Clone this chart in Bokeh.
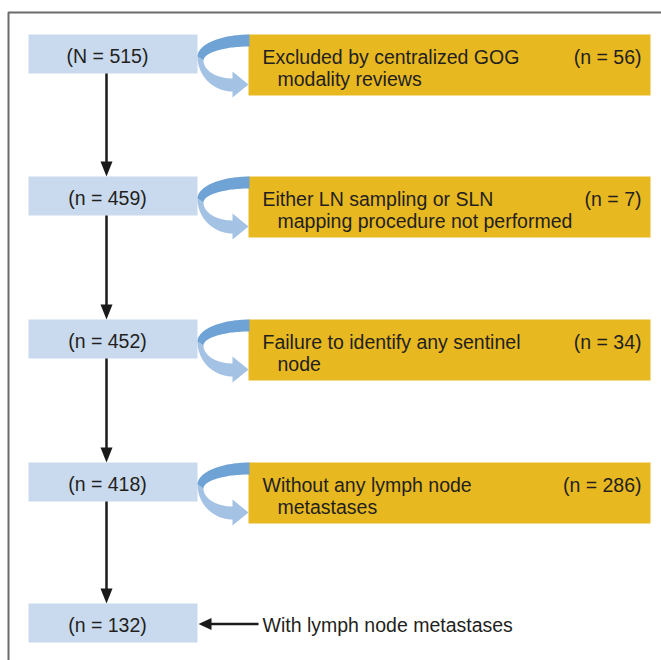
import numpy as np
from bokeh.plotting import figure
from bokeh.models import Range1d, ColumnDataSource
from bokeh.core.properties import value
from bokeh.embed import file_html
from bokeh.resources import INLINE

# ---- data ----
stage_prefix = ["N", "n", "n", "n", "n"]
stage_n = [515, 459, 452, 418, 132]
excl_n = [56, 7, 34, 286]
excl_line1 = ["Excluded by centralized GOG", "Either LN sampling or SLN",
              "Failure to identify any sentinel", "Without any lymph node"]
excl_line2 = ["modality reviews", "mapping procedure not performed",
              "node", "metastases"]
final_label = "With lymph node metastases"

# ---- layout / style ----
W, H = 661, 660
row_top = [34, 176, 319, 462, 603]
LB_L, LB_R, LB_H = 28, 197, 39
YB_L, YB_R, YB_H = 248, 650, 61
ARROW_X = 106
FONT = value("Liberation Sans")
FSIZE = "19.5px"
TXT = "#231f20"
C_LEFT = "#c9daee"
C_YEL = "#e8b820"
C_DARK = "#6fa3d5"
C_LIGHT = "#a3c2e4"

p = figure(width=W, height=H, x_range=Range1d(0, W), y_range=Range1d(H, 0),
           output_backend="svg", toolbar_location=None, min_border=0,
           x_axis_location=None, y_axis_location=None)
p.grid.visible = False
p.outline_line_color = None
p.background_fill_color = "white"
p.border_fill_color = "white"

# frame
p.line([8, 8, W + 5], [H + 5, 12, 12], line_color="#6b6b6b", line_width=2)

# left boxes
labels = [f"({pre} = {n})" for pre, n in zip(stage_prefix, stage_n)]
lsrc = ColumnDataSource(dict(
    left=[LB_L] * len(stage_n), right=[LB_R] * len(stage_n),
    top=row_top, bottom=[t + LB_H for t in row_top],
    x=[ARROW_X + 1] * len(stage_n), y=[t + LB_H / 2 + 2 for t in row_top], text=labels))
p.quad(left="left", right="right", top="top", bottom="bottom", source=lsrc,
       fill_color=C_LEFT, line_color=None)
p.text(x="x", y="y", text="text", source=lsrc, text_align="center", text_baseline="middle",
       text_font=FONT, text_font_size=FSIZE, text_color=TXT)

# yellow boxes
ne = len(excl_n)
ytops = row_top[:ne]
ysrc = ColumnDataSource(dict(
    left=[YB_L] * ne, right=[YB_R] * ne, top=ytops, bottom=[t + YB_H for t in ytops]))
p.quad(left="left", right="right", top="top", bottom="bottom", source=ysrc,
       fill_color=C_YEL, line_color=None)
p.text(x=[262] * ne, y=[t + 22 for t in ytops], text=excl_line1, text_align="left",
       text_baseline="middle", text_font=FONT, text_font_size=FSIZE, text_color=TXT)
p.text(x=[277] * ne, y=[t + 44 for t in ytops], text=excl_line2, text_align="left",
       text_baseline="middle", text_font=FONT, text_font_size=FSIZE, text_color=TXT)
p.text(x=[641] * ne, y=[t + 22 for t in ytops], text=[f"(n = {n})" for n in excl_n],
       text_align="right", text_baseline="middle", text_font=FONT, text_font_size=FSIZE,
       text_color=TXT)

# curved arrows
def arc(cx, cy, rx, ry, a0, a1, n=40):
    t = np.linspace(a0, a1, n)
    return list(cx + rx * np.cos(t)), list(cy + ry * np.sin(t))

dark_xs, dark_ys, light_xs, light_ys = [], [], [], []
for T in ytops:
    ox, oy = arc(249, T + 22, 52, 22, -np.pi / 2, -np.pi)
    ix, iy = arc(249, T + 26, 46, 14, -np.pi, -np.pi / 2)
    dark_xs.append(ox + ix); dark_ys.append(oy + iy)
    bx, by = arc(232, T + 22, 35, 35, np.pi, np.pi / 2)
    tx, ty = arc(232, T + 26, 29, 18, np.pi / 2, np.pi)
    hx = [232, 248, 232]
    hy = [T + 63, T + 50, T + 37]
    light_xs.append(bx + hx + tx); light_ys.append(by + hy + ty)
p.patches(light_xs, light_ys, fill_color=C_LIGHT, line_color=None)
p.patches(dark_xs, dark_ys, fill_color=C_DARK, line_color=None)

# vertical arrows
x0 = [ARROW_X] * (len(row_top) - 1)
y0 = [t + LB_H for t in row_top[:-1]]
y1 = [t - 10 for t in row_top[1:]]
p.segment(x0=x0, y0=y0, x1=x0, y1=y1, line_color="#1a1a1a", line_width=2.5)
p.patches([[ARROW_X - 6, ARROW_X, ARROW_X + 6] for _ in row_top[1:]],
          [[t - 15, t, t - 15] for t in row_top[1:]], fill_color="#1a1a1a", line_color=None)

# final arrow and label
yf = row_top[-1] + LB_H / 2 + 1
p.segment(x0=[258], y0=[yf], x1=[205], y1=[yf], line_color="#1a1a1a", line_width=2.5)
p.patches([[211, 198, 211]], [[yf - 6, yf, yf + 6]], fill_color="#1a1a1a", line_color=None)
p.text(x=[262], y=[yf + 1], text=[final_label], text_align="left", text_baseline="middle",
       text_font=FONT, text_font_size=FSIZE, text_color=TXT)

open("out.html", "w").write(file_html(p, INLINE))
